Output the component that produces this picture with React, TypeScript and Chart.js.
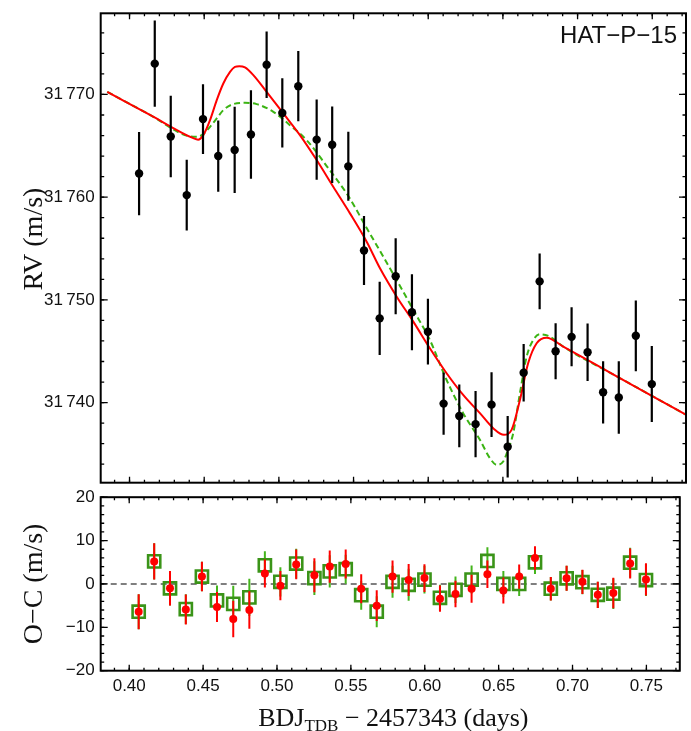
import React, { useEffect, useRef } from 'react';
import { Chart, registerables } from 'chart.js';

Chart.register(...registerables);

const SANS = "'Liberation Sans', Arial, Helvetica, sans-serif";
const SERIF = "'Liberation Serif', 'Times New Roman', serif";

// Observation epochs, BJD_TDB − 2457343 (days)
const obsTime = [
  0.4064, 0.4169, 0.4276, 0.4383, 0.4492, 0.4594, 0.4704, 0.4813, 0.4918, 0.5023,
  0.513, 0.5253, 0.5357, 0.5465, 0.557, 0.5675, 0.5782, 0.5891, 0.5998, 0.6103,
  0.6208, 0.6317, 0.6424, 0.6532, 0.6639, 0.6746, 0.6853, 0.696, 0.7067, 0.7171,
  0.7276, 0.739, 0.7497,
];

// Measured radial velocities (m/s) and 1-sigma uncertainties
const rvObs = [
  31762.3, 31773.0, 31765.9, 31760.2, 31767.6, 31764.0, 31764.6, 31766.1, 31772.9, 31768.2,
  31770.8, 31765.6, 31765.1, 31763.0, 31754.8, 31748.2, 31752.3, 31748.8, 31746.9, 31739.9,
  31738.7, 31737.9, 31739.8, 31735.7, 31742.9, 31751.8, 31745.0, 31746.4, 31744.9, 31741.0,
  31740.5, 31746.5, 31741.8,
];
const rvErr = [
  4.05, 4.2, 3.97, 3.44, 3.4, 3.47, 4.2, 4.3, 3.24, 3.37,
  3.42, 3.9, 3.73, 3.36, 3.36, 3.57, 3.71, 3.7, 3.2, 3.03,
  3.05, 3.23, 3.16, 3.0, 2.8, 2.72, 2.72, 2.87, 2.79, 3.03,
  3.53, 3.45, 3.7,
];

// Residuals against the solid (red) and dashed (green) models
const ocSolid = [
  -6.4, 5.2, -1.0, -5.9, 1.7, -5.3, -8.1, -6.0, 2.4, -0.4,
  4.5, 2.0, 4.0, 4.6, -1.1, -5.0, 1.7, 0.9, 1.35, -3.4,
  -2.3, -1.1, 2.25, -1.5, 1.7, 6.0, -1.1, 1.3, 0.5, -2.5,
  -2.1, 4.7, 1.05,
];
const ocDashed = [
  -6.4, 5.2, -1.0, -5.8, 1.7, -3.8, -4.6, -3.1, 4.3, 0.5,
  4.7, 1.35, 2.9, 3.4, -2.6, -6.4, 0.5, -0.2, 1.0, -3.2,
  -1.35, 1.0, 5.3, 0.0, 0.0, 5.0, -1.1, 1.3, 0.4, -2.5,
  -2.25, 4.9, 0.9,
];

// Solid model curve
const solidTime = [
  0.3851, 0.4137, 0.4427, 0.4459, 0.4494, 0.4539, 0.4584, 0.4628, 0.4673, 0.4706,
  0.4735, 0.4773, 0.4829, 0.4918, 0.503, 0.5141, 0.5253, 0.5364, 0.5476, 0.5588,
  0.5677, 0.5789, 0.59, 0.6011, 0.6123, 0.6234, 0.6346, 0.6435, 0.6507, 0.6558,
  0.6614, 0.6669, 0.6726, 0.6793, 0.6904, 0.7238, 0.7573, 0.7725,
];
const solidRv = [
  31770.25, 31768.01, 31765.74, 31765.6, 31766.04, 31767.5, 31769.45, 31771.07, 31772.2, 31772.68,
  31772.75, 31772.63, 31771.88, 31770.25, 31768.15, 31766.04, 31763.61, 31761.01, 31758.42, 31755.66,
  31753.07, 31750.31, 31747.88, 31745.29, 31742.86, 31740.75, 31738.97, 31737.51, 31736.86, 31737.34,
  31740.26, 31743.83, 31745.78, 31746.32, 31745.45, 31742.75, 31740.05, 31738.82,
];

// Dashed model curve
const dashedTime = [
  0.3851, 0.4137, 0.4405, 0.445, 0.4494, 0.4539, 0.4584, 0.4628, 0.4695, 0.4773,
  0.4851, 0.4963, 0.5074, 0.5186, 0.532, 0.5465, 0.5588, 0.5677, 0.5811, 0.59,
  0.6011, 0.6123, 0.6234, 0.6346, 0.6413, 0.6458, 0.6502, 0.6534, 0.6569, 0.6614,
  0.6659, 0.6703, 0.6748, 0.6815, 0.6904, 0.7238, 0.7573, 0.7725,
];
const dashedRv = [
  31770.25, 31768.01, 31765.91, 31765.87, 31766.14, 31766.85, 31767.67, 31768.47, 31769.06, 31769.18,
  31769.06, 31768.31, 31767.01, 31765.55, 31763.03, 31760.11, 31756.99, 31754.76, 31751.35, 31749.02,
  31746.1, 31742.2, 31738.97, 31736.37, 31734.59, 31733.94, 31734.26, 31735.4, 31737.02, 31740.91,
  31744.47, 31746.1, 31746.65, 31746.42, 31745.45, 31742.75, 31740.05, 31738.82,
];

const timeTicks = [0.4, 0.45, 0.5, 0.55, 0.6, 0.65, 0.7, 0.75];
const rvTicks = [31740, 31750, 31760, 31770];
const ocTicks = [-20, -10, 0, 10, 20];

const T_MIN = 0.3807;
const T_MAX = 0.7726;

const RED = '#ff0000';
const GREEN_LINE = '#3cb414';
const GREEN_BOX = '#3a9418';
const GREEN_BAR = '#44b41c';

const fmtRv = (v: number) => String(v).replace(/^(\d+)(\d{3})$/, '$1\u2009$2');
const fmtSigned = (v: number) => (v < 0 ? '\u2212' + Math.abs(v) : String(v));

// Keep axis label overhang from shrinking the plot area
const noOverhang = (s: any) => {
  s.paddingTop = 0;
  s.paddingBottom = 0;
  s.paddingLeft = 0;
  s.paddingRight = 0;
};

// Frame around the plot area with inward ticks on all four sides,
// plus the rotated y-axis title and an optional corner label
const frameTicks = {
  id: 'frameTicks',
  afterDatasetsDraw(chart: any, _args: any, opts: any) {
    const { ctx, chartArea: a, scales } = chart;
    const xs = scales.x;
    const ys = scales.y;
    ctx.save();
    ctx.strokeStyle = '#000';
    ctx.lineWidth = 1.3;
    const minors = (min: number, max: number, step: number) => {
      const out: number[] = [];
      for (let k = Math.ceil(min / step - 1e-9); k <= Math.floor(max / step + 1e-9); k++) out.push(k * step);
      return out;
    };
    const drawX = (v: number, len: number) => {
      const p = xs.getPixelForValue(v);
      ctx.beginPath();
      ctx.moveTo(p, a.bottom);
      ctx.lineTo(p, a.bottom - len);
      ctx.moveTo(p, a.top);
      ctx.lineTo(p, a.top + len);
      ctx.stroke();
    };
    const drawY = (v: number, len: number) => {
      const p = ys.getPixelForValue(v);
      ctx.beginPath();
      ctx.moveTo(a.left, p);
      ctx.lineTo(a.left + len, p);
      ctx.moveTo(a.right, p);
      ctx.lineTo(a.right - len, p);
      ctx.stroke();
    };
    minors(xs.min, xs.max, opts.xMinor).forEach((v) => drawX(v, 3));
    (opts.xMajor as number[]).forEach((v) => drawX(v, 6));
    minors(ys.min, ys.max, opts.yMinor).forEach((v) => drawY(v, 3.5));
    (opts.yMajor as number[]).forEach((v) => drawY(v, 7));
    ctx.lineWidth = 2;
    ctx.strokeRect(a.left, a.top, a.right - a.left, a.bottom - a.top);

    ctx.fillStyle = '#111';
    if (opts.label) {
      ctx.font = `24px ${SANS}`;
      ctx.textAlign = 'right';
      ctx.textBaseline = 'alphabetic';
      ctx.fillText(opts.label, a.right - 9, a.top + 29.6);
    }
    if (opts.yTitle) {
      ctx.save();
      ctx.translate(opts.yTitleX, (a.top + a.bottom) / 2 + (opts.yTitleShift || 0));
      ctx.rotate(-Math.PI / 2);
      ctx.font = `28px ${SERIF}`;
      ctx.textAlign = 'center';
      ctx.textBaseline = 'middle';
      ctx.fillText(opts.yTitle, 0, 0);
      ctx.restore();
    }
    ctx.restore();
  },
};

// Vertical error bars, drawn just before the points they belong to
const errorBars = {
  id: 'errorBars',
  beforeDatasetDraw(chart: any, args: any) {
    const ds: any = chart.data.datasets[args.index];
    if (!ds.errorBars) return;
    const { ctx, chartArea: a, scales } = chart;
    ctx.save();
    ctx.beginPath();
    ctx.rect(a.left, a.top, a.right - a.left, a.bottom - a.top);
    ctx.clip();
    ctx.strokeStyle = ds.errorBars.color;
    ctx.lineWidth = ds.errorBars.width;
    ds.data.forEach((p: any, i: number) => {
      const e = ds.errorBars.values[i];
      const px = scales.x.getPixelForValue(p.x);
      ctx.beginPath();
      ctx.moveTo(px, scales.y.getPixelForValue(p.y - e));
      ctx.lineTo(px, scales.y.getPixelForValue(p.y + e));
      ctx.stroke();
    });
    ctx.restore();
  },
};

const pts = (xs: number[], ys: number[]) => xs.map((x, i) => ({ x, y: ys[i] }));

const baseOptions = {
  animation: false as const,
  responsive: false,
  events: [] as any[],
};

export default function App() {
  const topRef = useRef<HTMLCanvasElement>(null);
  const botRef = useRef<HTMLCanvasElement>(null);

  useEffect(() => {
    const top = new Chart(topRef.current as HTMLCanvasElement, {
      type: 'scatter',
      data: {
        datasets: [
          {
            label: 'RV',
            data: pts(obsTime, rvObs),
            showLine: false,
            pointRadius: 4.2,
            pointBackgroundColor: '#000',
            pointBorderWidth: 0,
            errorBars: { values: rvErr, color: '#000', width: 2.2 },
          } as any,
          {
            label: 'Model',
            data: pts(solidTime, solidRv),
            showLine: true,
            borderColor: RED,
            borderWidth: 2,
            pointRadius: 0,
            cubicInterpolationMode: 'monotone',
          },
          {
            label: 'Alternative model',
            data: pts(dashedTime, dashedRv),
            showLine: true,
            borderColor: GREEN_LINE,
            borderWidth: 2,
            borderDash: [6, 3.5],
            pointRadius: 0,
            cubicInterpolationMode: 'monotone',
          },
        ],
      },
      options: {
        ...baseOptions,
        layout: { padding: { left: 0, right: 5, top: 13.3, bottom: 6.3 } },
        plugins: {
          legend: { display: false },
          tooltip: { enabled: false },
          frameTicks: {
            xMajor: timeTicks,
            xMinor: 0.01,
            yMajor: rvTicks,
            yMinor: 2,
            label: 'HAT\u2212P\u221215',
            yTitle: 'RV (m/s)',
            yTitleX: 35,
            yTitleShift: -9,
          },
        } as any,
        scales: {
          x: { type: 'linear', display: false, min: T_MIN, max: T_MAX },
          y: {
            type: 'linear',
            min: 31732.2,
            max: 31777.9,
            afterBuildTicks: (s: any) => {
              s.ticks = rvTicks.map((value) => ({ value }));
            },
            afterFit: (s: any) => {
              s.width = 100.7;
              noOverhang(s);
            },
            grid: { display: false, drawTicks: false },
            border: { display: false },
            ticks: {
              padding: 6,
              color: '#111',
              font: { family: SANS, size: 17 },
              callback: (v: any) => fmtRv(Number(v)),
            },
          },
        },
      },
      plugins: [errorBars, frameTicks],
    });

    const bottom = new Chart(botRef.current as HTMLCanvasElement, {
      type: 'scatter',
      data: {
        datasets: [
          {
            label: 'O\u2212C',
            data: pts(obsTime, ocSolid),
            showLine: false,
            pointRadius: 4,
            pointBackgroundColor: RED,
            pointBorderWidth: 0,
            errorBars: { values: rvErr, color: RED, width: 2 },
          } as any,
          {
            label: 'O\u2212C (alternative)',
            data: pts(obsTime, ocDashed),
            showLine: false,
            pointStyle: 'rect',
            pointRadius: 8.6,
            pointBackgroundColor: 'rgba(0,0,0,0)',
            pointBorderColor: GREEN_BOX,
            pointBorderWidth: 2.6,
            errorBars: { values: rvErr, color: GREEN_BAR, width: 2 },
          } as any,
          {
            label: 'zero',
            data: [
              { x: T_MIN, y: 0 },
              { x: T_MAX, y: 0 },
            ],
            showLine: true,
            borderColor: '#555',
            borderWidth: 1.5,
            borderDash: [6, 4],
            pointRadius: 0,
          },
        ],
      },
      options: {
        ...baseOptions,
        layout: { padding: { left: 0, right: 5, top: 7.3, bottom: 0 } },
        plugins: {
          legend: { display: false },
          tooltip: { enabled: false },
          frameTicks: {
            xMajor: timeTicks,
            xMinor: 0.01,
            yMajor: ocTicks,
            yMinor: 2,
            yTitle: 'O\u2212C (m/s)',
            yTitleX: 35,
            yTitleShift: 0,
          },
        } as any,
        scales: {
          x: {
            type: 'linear',
            min: T_MIN,
            max: T_MAX,
            afterBuildTicks: (s: any) => {
              s.ticks = timeTicks.map((value) => ({ value }));
            },
            afterFit: (s: any) => {
              s.height = 60.3;
              noOverhang(s);
            },
            grid: { display: false, drawTicks: false },
            border: { display: false },
            ticks: {
              padding: 5,
              color: '#111',
              autoSkip: false,
              maxRotation: 0,
              font: { family: SANS, size: 17 },
              callback: (v: any) => Number(v).toFixed(2),
            },
          },
          y: {
            type: 'linear',
            min: -20,
            max: 20,
            afterBuildTicks: (s: any) => {
              s.ticks = ocTicks.map((value) => ({ value }));
            },
            afterFit: (s: any) => {
              s.width = 100.7;
              noOverhang(s);
            },
            grid: { display: false, drawTicks: false },
            border: { display: false },
            ticks: {
              padding: 6,
              color: '#111',
              font: { family: SANS, size: 17 },
              callback: (v: any) => fmtSigned(Number(v)),
            },
          },
        },
      },
      plugins: [errorBars, frameTicks],
    });

    return () => {
      top.destroy();
      bottom.destroy();
    };
  }, []);

  return (
    <div
      style={{
        position: 'absolute',
        left: 0,
        top: 0,
        width: 691,
        height: 731,
        background: '#fff',
        overflow: 'hidden',
      }}
    >
      <canvas
        ref={topRef}
        width={691}
        height={489}
        style={{ position: 'absolute', left: 0, top: 0, width: 691, height: 489 }}
      />
      <canvas
        ref={botRef}
        width={691}
        height={245}
        style={{ position: 'absolute', left: 0, top: 486, width: 691, height: 245 }}
      />
      <div
        style={{
          position: 'absolute',
          left: 100.7,
          width: 585.3,
          top: 705,
          textAlign: 'center',
          fontFamily: SERIF,
          fontSize: 26,
          lineHeight: '26px',
          color: '#111',
          whiteSpace: 'nowrap',
        }}
      >
        BDJ<span style={{ fontSize: 17, position: 'relative', top: 5 }}>TDB</span> {'\u2212'} 2457343 (days)
      </div>
    </div>
  );
}
